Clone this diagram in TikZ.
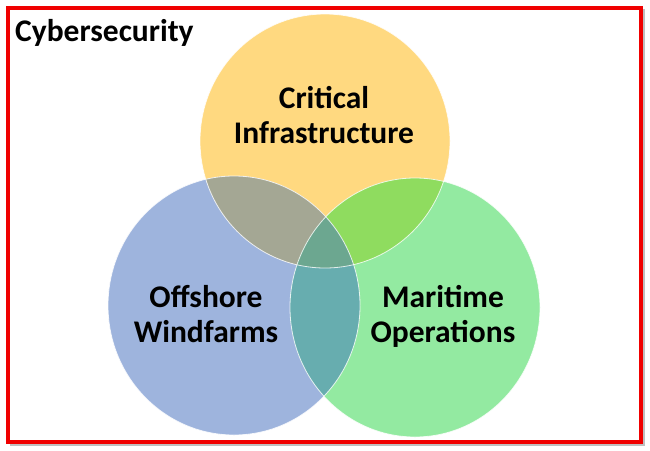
\documentclass[tikz,border=0pt]{standalone}
\usepackage{fontspec}
\setmainfont{Carlito}
\definecolor{cyel}{HTML}{FFD980}
\definecolor{cblu}{HTML}{9EB4DD}
\definecolor{cgrn}{HTML}{93EAA1}
\definecolor{cyb}{HTML}{A4A794}
\definecolor{cyg}{HTML}{8FDC5F}
\definecolor{cbg}{HTML}{67ADAF}
\definecolor{cybg}{HTML}{6CA790}
\definecolor{cred}{HTML}{F00000}
\begin{document}
\begin{tikzpicture}[x=1pt,y=-1pt,
  lbl/.style={font=\bfseries\fontsize{31.5}{35}\selectfont, align=center, text=black, inner sep=0pt},
  edge/.style={draw=white, line width=0.8pt, draw opacity=0.8}]
\useasboundingbox (0,0) rectangle (650,450);
\fill[white] (0,0) rectangle (650,450);
\coordinate (cy) at (325,141);
\coordinate (cb) at (234,305.5);
\coordinate (cg) at (415,307.5);
% base fills
\fill[cyel] (cy) ellipse [x radius=125, y radius=127];
\fill[cblu] (cb) ellipse [x radius=126, y radius=129.5];
\fill[cgrn] (cg) ellipse [x radius=125, y radius=129.5];
% pairwise overlaps
\begin{scope}
  \clip (cy) ellipse [x radius=125, y radius=127];
  \fill[cyb] (cb) ellipse [x radius=126, y radius=129.5];
  \fill[cyg] (cg) ellipse [x radius=125, y radius=129.5];
\end{scope}
\begin{scope}
  \clip (cb) ellipse [x radius=126, y radius=129.5];
  \fill[cbg] (cg) ellipse [x radius=125, y radius=129.5];
  \clip (cy) ellipse [x radius=125, y radius=127];
  \fill[cybg] (cg) ellipse [x radius=125, y radius=129.5];
\end{scope}
% thin edges
\draw[edge] (cy) ellipse [x radius=125, y radius=127];
\draw[edge] (cb) ellipse [x radius=126, y radius=129.5];
\draw[edge] (cg) ellipse [x radius=125, y radius=129.5];
% labels
\node[lbl] (crit) at (324,115) {Critical\\Infrastructure};
\node[lbl] (off) at (206,314) {Offshore\\Windfarms};
\node[lbl] (mar) at (443,316) {Maritime\\Operations};
\node[font=\bfseries\fontsize{31.5}{35}\selectfont, anchor=base west, inner sep=0pt] (cyber) at (15,41) {Cybersecurity};
% frame
\draw[black!25, line width=2pt] (10,445) -- (644,445) -- (644,9);
\draw[cred, line width=4pt] (8,8) rectangle (641,442);
\end{tikzpicture}
\end{document}
